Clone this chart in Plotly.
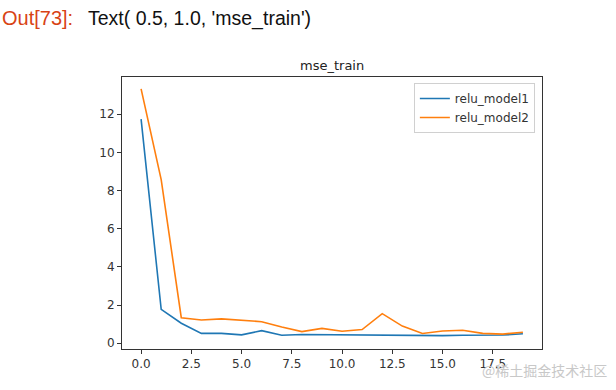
import plotly.graph_objects as go

epochs = list(range(20))
relu_model1 = [11.74, 1.78, 1.05, 0.52, 0.52, 0.44, 0.66, 0.42, 0.46, 0.45,
               0.45, 0.42, 0.42, 0.40, 0.42, 0.40, 0.42, 0.43, 0.43, 0.50]
relu_model2 = [13.33, 8.57, 1.34, 1.22, 1.28, 1.22, 1.13, 0.85, 0.61, 0.78,
               0.63, 0.72, 1.55, 0.90, 0.51, 0.64, 0.68, 0.52, 0.48, 0.58]
x_tickvals = [0.0, 2.5, 5.0, 7.5, 10.0, 12.5, 15.0, 17.5]
x_ticktext = ["0.0", "2.5", "5.0", "7.5", "10.0", "12.5", "15.0", "17.5"]
y_tickvals = [0, 2, 4, 6, 8, 10, 12]
title_text = "mse_train"
out_prompt = "Out[73]:"
out_text = "Text( 0.5, 1.0, 'mse_train')"
watermark = "@稀土掘金技术社区"

fig = go.Figure()
fig.add_trace(go.Scatter(x=epochs, y=relu_model1, mode="lines", name="relu_model1",
                         line=dict(color="#1f77b4", width=1.6)))
fig.add_trace(go.Scatter(x=epochs, y=relu_model2, mode="lines", name="relu_model2",
                         line=dict(color="#ff7f0e", width=1.6)))

axis_common = dict(showline=True, linecolor="#333333", linewidth=1, mirror=True,
                   ticks="outside", ticklen=4, tickcolor="#333333", showgrid=False,
                   zeroline=False, tickfont=dict(family="DejaVu Sans", size=12, color="#333333"))

fig.update_layout(
    width=616, height=390,
    margin=dict(l=122, r=74, t=77, b=41),
    paper_bgcolor="white", plot_bgcolor="white",
    showlegend=True,
    legend=dict(x=0.983, y=0.978, xanchor="right", yanchor="top",
                bordercolor="#d0d0d0", borderwidth=1, bgcolor="rgba(255,255,255,0.9)",
                font=dict(family="DejaVu Sans", size=12, color="#333333"),
                tracegroupgap=0, itemwidth=30),
    xaxis=dict(range=[-0.95, 19.95], tickvals=x_tickvals, ticktext=x_ticktext, **axis_common),
    yaxis=dict(range=[-0.3, 13.95], tickvals=y_tickvals, **axis_common),
    annotations=[
        dict(text=title_text, xref="paper", yref="paper", x=0.5, y=1.0, yshift=2,
             xanchor="center", yanchor="bottom", showarrow=False,
             font=dict(family="DejaVu Sans", size=13, color="#222222")),
        dict(text=out_prompt, xref="paper", yref="paper", x=-122/420, y=1 + (77-18)/272,
             xanchor="left", yanchor="middle", showarrow=False,
             font=dict(family="Liberation Sans", size=20, color="#D84315")),
        dict(text=out_text, xref="paper", yref="paper", x=(86-122)/420, y=1 + (77-18)/272,
             xanchor="left", yanchor="middle", showarrow=False,
             font=dict(family="Liberation Sans", size=19.5, color="#111111")),
        dict(text=watermark, xref="paper", yref="paper", x=(609-122)/420, y=-(370-349)/272,
             xanchor="right", yanchor="middle", showarrow=False,
             font=dict(family="Noto Sans CJK SC", size=14, color="#c8c8c8")),
    ],
)

fig.write_html("out.html", config={"displayModeBar": False},
               post_script="document.body.style.margin='0px';")
